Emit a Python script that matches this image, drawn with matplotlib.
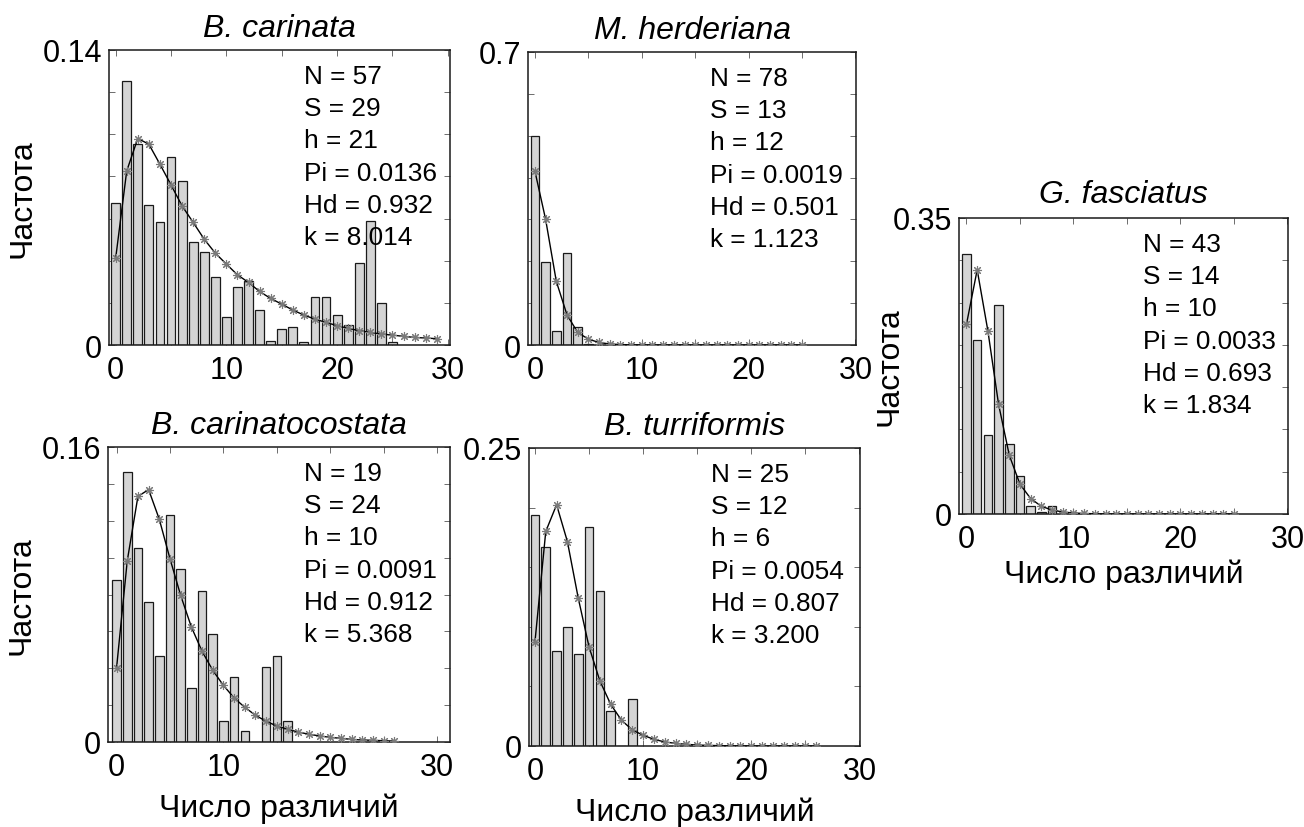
import numpy as np
import matplotlib
matplotlib.use('Agg')
import matplotlib.pyplot as plt
from matplotlib.ticker import FixedLocator, FixedFormatter

plt.rcParams['font.family'] = ['Liberation Sans', 'DejaVu Sans']

W, H = 1304, 828

# B. carinata
bc_freq = [0.0676, 0.1253, 0.0953, 0.0664, 0.0585, 0.0890, 0.0777, 0.0487, 0.0439, 0.0321,
           0.0131, 0.0277, 0.0302, 0.0167, 0.0017, 0.0076, 0.0087, 0.0013, 0.0226, 0.0226,
           0.0144, 0.0095, 0.0387, 0.0589, 0.0199, 0.0016]
bc_exp = [0.0411, 0.0826, 0.0980, 0.0953, 0.0858, 0.0760, 0.0660, 0.0582, 0.0502, 0.0436,
          0.0384, 0.0333, 0.0297, 0.0254, 0.0221, 0.0194, 0.0166, 0.0142, 0.0123, 0.0107,
          0.0092, 0.0079, 0.0068, 0.0060, 0.0052, 0.0047, 0.0041, 0.0036, 0.0033, 0.0030]
bc_stats = ['N = 57', 'S = 29', 'h = 21', 'Pi = 0.0136', 'Hd = 0.932', 'k = 8.014']

# M. herderiana
mh_freq = [0.500, 0.198, 0.034, 0.219, 0.042, 0.003]
mh_exp = [0.415, 0.300, 0.152, 0.072, 0.030, 0.014, 0.006, 0.0024, 0.0010, 0.0004,
          0.0002, 0.0001, 0, 0, 0, 0, 0, 0, 0, 0, 0, 0, 0, 0, 0, 0]
mh_stats = ['N = 78', 'S = 13', 'h = 12', 'Pi = 0.0019', 'Hd = 0.501', 'k = 1.123']

# B. carinatocostata
bcc_freq = [0.0877, 0.1464, 0.1052, 0.0761, 0.0466, 0.1229, 0.0937, 0.0293, 0.0819, 0.0584,
            0.0116, 0.0351, 0.0058, 0.0, 0.0407, 0.0466, 0.0116]
bcc_exp = [0.0401, 0.0982, 0.1332, 0.1369, 0.1208, 0.0994, 0.0795, 0.0624, 0.0492, 0.0389,
           0.0307, 0.0239, 0.0188, 0.0145, 0.0112, 0.0087, 0.0069, 0.0054, 0.0042, 0.0033,
           0.0025, 0.0020, 0.0014, 0.0011, 0.0009, 0.0007, 0.0005]
bcc_stats = ['N = 19', 'S = 24', 'h = 10', 'Pi = 0.0091', 'Hd = 0.912', 'k = 5.368']

# B. turriformis
bt_freq = [0.1934, 0.1668, 0.0799, 0.1001, 0.0768, 0.1836, 0.1298, 0.0294, 0.0, 0.0398]
bt_exp = [0.0874, 0.1800, 0.2024, 0.1715, 0.1242, 0.0832, 0.0547, 0.0350, 0.0216, 0.0135,
          0.0090, 0.0056, 0.0034, 0.0022, 0.0014, 0.0008, 0.0005, 0.0003, 0.0002, 0.0001,
          0.0001, 0, 0, 0, 0, 0, 0]
bt_stats = ['N = 25', 'S = 12', 'h = 6', 'Pi = 0.0054', 'Hd = 0.807', 'k = 3.200']

# G. fasciatus
gf_freq = [0.3077, 0.2054, 0.0932, 0.2473, 0.0830, 0.0446, 0.0091, 0.0024, 0.0099]
gf_exp = [0.2244, 0.2888, 0.2165, 0.1296, 0.0695, 0.0352, 0.0182, 0.0091, 0.0047, 0.0024,
          0.0012, 0.0006, 0.0003, 0.0001, 0, 0, 0, 0, 0, 0, 0, 0, 0, 0, 0, 0]
gf_stats = ['N = 43', 'S = 14', 'h = 10', 'Pi = 0.0033', 'Hd = 0.693', 'k = 1.834']

xtick_vals = [0, 5, 10, 15, 20, 25, 30]
xtick_text = ['0', '', '10', '', '20', '', '30']

fig = plt.figure(figsize=(W / 100, H / 100), dpi=100)


def add_ax(left, top, right, bottom):
    return fig.add_axes([left / W, 1 - bottom / H, (right - left) / W, (bottom - top) / H])


def panel(box, freq, exp, stats, title, xlim, ymax, ystep, ylab_x, ytxt,
          ylabel=False, xlabel=False, text_x=190, title_pad=10):
    ax = add_ax(*box)
    wpx = box[2] - box[0]
    hpx = box[3] - box[1]
    ax.bar(np.arange(len(freq)), freq, width=0.8, color='#d4d4d4',
           edgecolor='#1a1a1a', linewidth=0.9, zorder=2)
    ax.plot(np.arange(len(exp)), exp, color='black', lw=1.0, zorder=3)
    ax.plot(np.arange(len(exp)), exp, ls='none', marker=(8, 2, 0), markersize=6.5,
            markeredgecolor='#7a7a7a', markeredgewidth=0.8, zorder=3)
    ax.set_xlim(*xlim)
    ax.set_ylim(0, ymax)
    ax.xaxis.set_major_locator(FixedLocator(xtick_vals))
    ax.xaxis.set_major_formatter(FixedFormatter(xtick_text))
    yt = np.arange(0, ymax + ystep / 2, ystep)
    ax.yaxis.set_major_locator(FixedLocator(yt))
    ylbl = [''] * len(yt)
    ylbl[0] = '0'
    ylbl[-1] = ytxt
    ax.yaxis.set_major_formatter(FixedFormatter(ylbl))
    ax.tick_params(direction='in', length=4, width=0.6, top=True, right=True,
                   labelsize=22, color='#555555')
    ax.tick_params(axis='x', pad=7)
    ax.tick_params(axis='y', pad=5)
    for s in ax.spines.values():
        s.set_linewidth(1.1)
        s.set_color('#1a1a1a')
    ax.set_title(title, style='italic', fontsize=23, pad=title_pad)
    for i, line in enumerate(stats):
        ax.text(text_x / wpx, 1 - (33 + i * 32.2) / hpx, line, transform=ax.transAxes,
                fontsize=18.9, ha='left', va='baseline', zorder=4)
    if ylabel:
        ax.set_ylabel('Частота', fontsize=23)
        ax.yaxis.set_label_coords(ylab_x, 0.5)
    if xlabel:
        ax.set_xlabel('Число различий', fontsize=23)
        ax.xaxis.set_label_coords(0.5, xlabel)
    return ax


panel((109, 51, 450, 346), bc_freq, bc_exp, bc_stats, 'B. carinata',
      (-0.6, 30.2), 0.14, 0.02, -0.21, '0.14', ylabel=True, text_x=195)
panel((528, 53, 856, 346), mh_freq, mh_exp, mh_stats, 'M. herderiana',
      (-0.65, 30.05), 0.7, 0.1, None, '0.7', text_x=182)
panel((108, 448, 450, 743), bcc_freq, bcc_exp, bcc_stats, 'B. carinatocostata',
      (-0.8, 31.2), 0.16, 0.02, -0.21, '0.16', ylabel=True, xlabel=-0.17, text_x=196)
panel((529, 449, 860, 747), bt_freq, bt_exp, bt_stats, 'B. turriformis',
      (-0.55, 30.05), 0.25, 0.05, None, '0.25', xlabel=-0.17, text_x=182)
panel((959, 219, 1288, 515), gf_freq, gf_exp, gf_stats, 'G. fasciatus',
      (-0.7, 30.05), 0.35, 0.05, -0.165, '0.35', ylabel=True, xlabel=-0.15,
      text_x=184, title_pad=11.5)

fig.savefig('out.png', dpi=100)
